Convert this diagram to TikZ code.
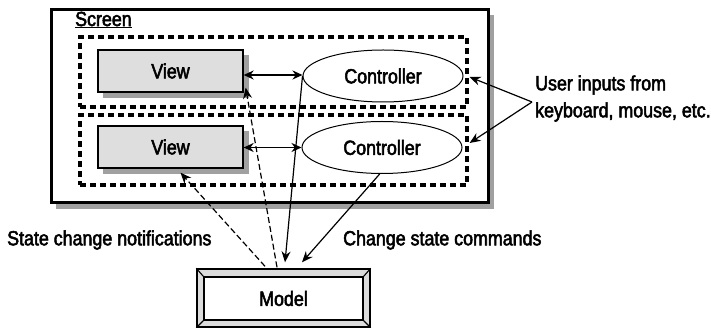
\documentclass[tikz,border=0pt]{standalone}
\usepackage{fontspec}
\setmainfont{Liberation Sans}[FakeStretch=0.87, FakeBold=2.5]
\usetikzlibrary{arrows.meta,calc,shapes.geometric}
\definecolor{boxfill}{HTML}{DEDEDE}
\definecolor{shadowgray}{HTML}{A0A0A0}
\definecolor{bandgray}{HTML}{DCDCDC}
\tikzset{
  txt/.style={font=\fontsize{20.5}{27}\selectfont, inner sep=0pt},
  viewbox/.style={draw=black, line width=1.3pt, fill=boxfill, minimum width=145pt, minimum height=42pt, txt},
  ctrl/.style={ellipse, draw=black, line width=1pt, fill=white, minimum width=160pt, minimum height=52pt, txt},
  dashbox/.style={draw=black, line width=3.2pt, dash pattern=on 6pt off 4pt, minimum width=387pt, minimum height=70pt, inner sep=0pt},
  screenbox/.style={draw=black, line width=3pt, fill=white, minimum width=437pt, minimum height=193pt, inner sep=0pt},
  dblarrow/.style={{Stealth[length=10pt,width=9pt]}-{Stealth[length=10pt,width=9pt]}, line width=1.8pt},
  solidarrow/.style={-{Stealth[length=11pt,width=9pt]}, line width=1.2pt},
  dasharrow/.style={-{Stealth[length=11pt,width=9pt]}, line width=1.2pt, dash pattern=on 6pt off 3pt},
  uiarrow/.style={-{Stealth[length=11pt,width=9pt]}, line width=1.2pt},
}
\begin{document}
\begin{tikzpicture}[x=1pt,y=-1pt]
\useasboundingbox (0,0) rectangle (711,328);
% screen
\fill[shadowgray] (56,15) rectangle (494,209);
\node[screenbox] (scr) at (269.5,106.5) {};
\node[txt, anchor=west] (scrlbl) at (75,20) {\underline{Screen}};
% dashed boxes
\node[dashbox] (d1) at (273.5,72) {};
\node[dashbox] (d2) at (273.5,150) {};
% views
\fill[shadowgray] (103,55) rectangle (249,98);
\fill[shadowgray] (103,131) rectangle (249,174);
\node[viewbox] (v1) at (170.5,71) {View};
\node[viewbox] (v2) at (170.5,147) {View};
% controllers
\node[ctrl] (c1) at (383,76) {Controller};
\node[ctrl] (c2) at (382,147.5) {Controller};
% model
\node[draw=black, line width=1.4pt, fill=bandgray, minimum width=173pt, minimum height=58pt, inner sep=0pt] (m) at (283.5,298) {};
\node[draw=black, line width=1.4pt, fill=white, minimum width=159pt, minimum height=43pt, inner sep=0pt, txt] (mi) at (283.5,298.5) {Model};
\draw[line width=1.1pt] (m.north west) -- (mi.north west);
\draw[line width=1.1pt] (m.north east) -- (mi.north east);
\draw[line width=1.1pt] (m.south west) -- (mi.south west);
\draw[line width=1.1pt] (m.south east) -- (mi.south east);
% double arrows
\draw[dblarrow] (c1.west |- 0,75) -- (v1.east |- 0,75);
\draw[dblarrow] (c2.west) -- (v2.east |- c2.west);
% controllers to model
\coordinate (mt1) at ($(m.north)+(1.5,-6)$);
\coordinate (mt2) at ($(m.north)+(18.5,-6)$);
\draw[solidarrow] (c1.west) -- (mt1);
\draw[solidarrow] (c2.265) -- (mt2);
% model to views
\coordinate (ms1) at ($(m.north)+(-18.5,-2)$);
\coordinate (ms2) at ($(m.north)+(-6.5,-1)$);
\draw[dasharrow] (ms1) -- ($(v2.south)+(10,4)$);
\draw[dasharrow] (ms2) -- ($(v1.south east)+(2,-5)$);
% user inputs
\node[txt, anchor=west, align=left] (ui) at (535,98.5) {User inputs from\\keyboard, mouse, etc.};
\coordinate (uis) at (532,102);
\coordinate (ue1) at ($(d1.east)+(1,5)$);
\coordinate (ue2) at ($(d2.east)+(1,-7)$);
\draw[uiarrow] (uis) -- (ue1);
\draw[uiarrow] (uis) -- (ue2);
% labels
\node[txt, anchor=west] (scn) at (7,240) {State change notifications};
\node[txt, anchor=west] (csc) at (343,240) {Change state commands};
\end{tikzpicture}
\end{document}
